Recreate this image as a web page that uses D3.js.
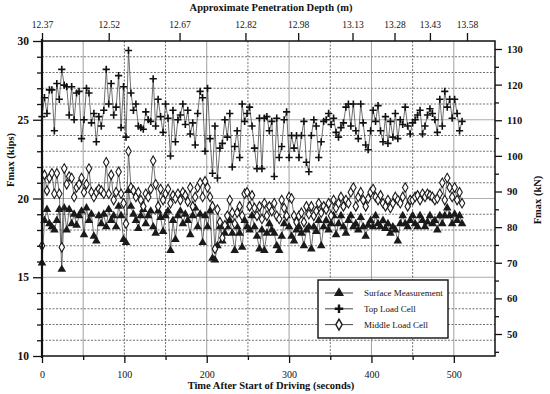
<!DOCTYPE html>
<html><head><meta charset="utf-8">
<script src="https://cdn.jsdelivr.net/npm/d3@7"></script>
<style>
body{margin:0;background:#fff}
svg{display:block}
text{font-family:"Liberation Serif","Times New Roman",serif;fill:#111}
</style>
</head><body><svg id="c" width="550" height="394"></svg>
<script>
// ---- data ----
const times = [0,3,6,9,12,15,18,21,24,27,30,33,36,39,42,45,48,51,54,57,60,63,66,69,72,75,78,81,84,87,90,93,96,99,102,105,108,111,114,117,120,123,126,129,132,135,138,141,144,147,150,153,156,159,162,165,168,171,174,177,180,183,186,189,192,195,198,201,204,207,210,213,216,219,222,225,228,231,234,237,240,243,246,249,252,255,258,261,264,267,270,273,276,279,282,285,288,291,294,297,300,303,306,309,312,315,318,321,324,327,330,333,336,339,342,345,348,351,354,357,360,363,366,369,372,375,378,381,384,387,390,393,396,399,402,405,408,411,414,417,420,423,426,429,432,435,438,441,444,447,450,453,456,459,462,465,468,471,474,477,480,483,486,489,492,495,498,501,504,507,510];

const surface = [15.9,18.6,19.3,18.4,18.2,18.0,18.6,19.3,15.5,19.4,
18.0,19.3,18.4,19.0,18.3,18.9,19.2,17.7,19.4,18.6,
19.0,17.6,17.3,18.9,18.4,19.0,18.2,19.3,18.6,18.9,
18.2,19.5,18.9,17.4,17.2,20.5,19.5,19.0,18.6,18.1,
18.9,19.3,18.4,18.9,19.2,18.2,17.8,19.2,18.8,17.9,
18.9,19.2,16.7,18.6,17.4,18.9,19.2,18.4,19.0,18.6,
17.7,18.9,19.4,18.2,19.0,17.2,18.9,18.2,19.2,16.2,
16.1,17.0,18.2,17.3,17.8,18.2,18.6,17.8,16.7,18.2,
17.8,16.9,18.6,18.2,18.0,18.9,18.2,17.6,16.8,18.0,
16.7,17.8,18.4,18.0,17.8,17.0,16.7,17.6,18.4,18.9,
18.2,17.6,17.3,18.0,18.2,17.8,17.0,18.0,18.2,16.8,
18.2,17.9,18.6,17.0,18.2,18.6,18.0,18.4,18.9,17.7,
18.4,18.9,18.2,17.8,18.6,18.9,18.2,18.4,18.0,18.8,
18.2,17.6,18.3,18.6,18.2,18.9,18.4,18.2,18.6,18.1,
18.4,17.8,18.2,18.0,17.3,18.4,18.9,18.4,18.2,18.6,
18.9,18.4,18.2,18.9,18.6,18.2,18.5,18.9,18.4,18.6,
18.0,18.9,18.4,18.9,19.4,18.9,18.4,19.0,18.6,18.9,
18.4];

const topCell = [25.2,26.4,25.4,26.9,26.9,24.3,27.3,26.3,28.2,27.2,
27.1,25.3,27.1,25.0,26.7,26.8,23.8,25.0,27.0,26.7,
24.8,25.4,23.6,25.2,24.6,25.6,28.2,26.0,27.3,25.3,
25.8,27.8,24.5,27.1,23.9,29.4,26.7,25.6,26.0,24.6,
24.5,24.4,25.5,25.0,24.9,27.6,24.6,26.3,25.2,24.2,
26.0,25.1,22.7,25.6,23.6,25.0,25.3,26.0,24.7,25.6,
24.1,24.8,23.4,25.4,26.8,26.4,23.0,27.0,23.8,21.6,
24.6,21.3,23.2,23.5,25.0,23.9,25.4,22.0,23.3,24.3,
22.6,26.0,24.9,25.4,25.8,24.6,23.2,21.9,25.1,21.9,
25.1,25.2,24.3,24.9,21.4,25.1,22.6,23.3,25.0,25.5,
22.6,24.0,23.2,24.0,22.6,24.0,24.9,22.3,21.7,24.0,
25.0,24.6,22.6,23.6,24.9,25.0,25.4,24.7,25.1,24.2,
23.9,24.5,24.8,25.8,26.0,24.6,26.0,24.3,23.8,26.0,
24.8,23.4,23.1,24.3,25.6,24.9,25.9,24.3,23.6,25.2,
23.5,24.9,23.9,25.4,23.8,25.0,24.7,25.8,24.6,24.1,
24.8,25.0,25.3,25.6,24.1,24.6,25.3,25.7,25.4,25.0,
24.2,26.3,24.6,26.8,25.8,26.3,25.1,26.3,25.4,24.3,
24.9];

const middleCell = [17.0,21.5,20.5,21.3,21.6,20.3,21.6,20.3,16.9,21.9,
20.9,21.4,21.3,20.1,20.7,20.9,21.3,20.4,20.9,21.9,
20.4,20.1,20.4,20.6,20.5,20.3,22.3,20.3,21.5,19.9,
20.4,21.7,20.3,19.7,18.4,23.0,20.7,20.5,20.1,20.4,
19.9,19.5,20.3,20.1,20.6,22.4,20.9,19.5,20.6,19.9,
20.3,20.6,19.7,20.2,20.0,20.3,19.9,20.4,20.2,19.8,
20.7,19.5,20.1,20.7,21.0,20.1,21.1,20.7,20.1,19.5,
16.8,19.3,18.5,17.5,18.3,18.9,19.9,19.1,18.4,19.1,
19.5,18.9,20.3,20.4,19.5,20.2,19.4,18.9,19.5,18.7,
19.7,18.9,19.5,19.2,19.7,18.9,18.7,19.9,19.4,18.9,
20.1,20.0,18.9,18.5,18.9,19.1,18.5,19.5,19.0,19.5,
18.9,19.2,19.7,19.1,19.5,19.3,19.7,18.9,19.9,19.4,
19.7,20.1,19.5,19.9,19.7,20.4,20.7,19.5,20.1,20.4,
19.9,19.5,20.0,20.4,20.6,20.1,19.9,20.2,19.7,19.5,
19.9,19.4,19.7,20.1,19.9,19.7,20.1,20.7,19.5,19.9,
19.9,20.1,20.2,19.9,20.3,20.1,20.3,20.2,20.1,19.9,
20.0,20.3,21.0,19.9,21.3,20.7,20.1,20.7,19.9,20.4,
19.7];

const kipsTicks = [10,15,20,25,30];
const kipsMinor = [11,12,13,14,16,17,18,19,21,22,23,24,26,27,28,29];
const kNTicks = [50,60,70,80,90,100,110,120,130];
const kNMinor = [45,55,65,75,85,95,105,115,125];
const timeTicks = [0,100,200,300,400,500];
const timeMinor = [50,150,250,350,450];
const depthLabels = ["12.37","12.52","12.67","12.82","12.98","13.13","13.28","13.43","13.58"];
const depthTimes = [0,81,167,247,311,377,428,471,516];
const gridSolidX = [50,200,300,400,500];
const gridDashX = [100,150,250,350,450];
const legendLabels = ["Surface Measurement","Top Load Cell","Middle Load Cell"];

// ---- scales ----
const svg = d3.select("#c");
const L = 42, R = 495, T = 41, B = 356;
const x = d3.scaleLinear().domain([0,550]).range([L,R]);
const y = d3.scaleLinear().domain([10,30]).range([B,T]);
const yk = d3.scaleLinear().domain([50,130]).range([334,49]);

svg.append("rect").attr("width",550).attr("height",394).attr("fill","#fff");

// ---- grid ----
const grid = svg.append("g");
grid.selectAll(".hg").data(d3.range(11,30)).join("line")
  .attr("x1",L).attr("x2",R).attr("y1",d=>y(d)).attr("y2",d=>y(d))
  .attr("stroke",d=>d%5===0?"#999":"#333")
  .attr("stroke-width",d=>d%5===0?0.8:0.7)
  .attr("stroke-dasharray",d=>d%5===0?null:"2,1.5");
grid.selectAll(".vs").data(gridSolidX).join("line")
  .attr("x1",d=>x(d)).attr("x2",d=>x(d)).attr("y1",T).attr("y2",B)
  .attr("stroke","#888").attr("stroke-width",0.8);
grid.selectAll(".vd").data(gridDashX).join("line")
  .attr("x1",d=>x(d)).attr("x2",d=>x(d)).attr("y1",T).attr("y2",B)
  .attr("stroke","#333").attr("stroke-width",0.7).attr("stroke-dasharray","2,1.5");

// ---- series ----
const plusPath = "M-3.6,0H3.6M0,-3.6V3.6";
function drawSeries(vals, kind){
  const pts = times.map((t,i)=>[t,vals[i]]);
  const g = svg.append("g");
  g.append("path").datum(pts)
    .attr("d", d3.line().x(d=>x(d[0])).y(d=>y(d[1])))
    .attr("fill","none").attr("stroke","#333").attr("stroke-width",0.7);
  const m = g.selectAll("path.m").data(pts).join("path").attr("class","m")
    .attr("transform",d=>`translate(${x(d[0])},${y(d[1])})`);
  if(kind==="tri") m.attr("d", d3.symbol(d3.symbolTriangle,32)()).attr("fill","#1a1a1a");
  if(kind==="plus") m.attr("d", plusPath).attr("fill","none").attr("stroke","#111").attr("stroke-width",1.6);
  if(kind==="dia") m.attr("d", d3.symbol(d3.symbolDiamond,26)()).attr("fill","#fff").attr("stroke","#1a1a1a").attr("stroke-width",1.1);
}
drawSeries(surface,"tri");
drawSeries(topCell,"plus");
drawSeries(middleCell,"dia");

// ---- frame ----
svg.append("rect").attr("x",L).attr("y",T).attr("width",R-L).attr("height",B-T)
  .attr("fill","none").attr("stroke","#111").attr("stroke-width",1.5);
svg.append("line").attr("x1",L).attr("x2",L).attr("y1",T-2).attr("y2",B+2)
  .attr("stroke","#111").attr("stroke-width",2.2);

// ---- axes ----
function styleAxis(g){ g.select(".domain").remove(); g.selectAll("line").attr("stroke","#111").attr("stroke-width",1.3); }
const gl = svg.append("g").attr("transform",`translate(${L},0)`)
  .call(d3.axisLeft(y).tickValues(kipsTicks).tickSize(9).tickPadding(4));
styleAxis(gl); gl.selectAll("text").attr("font-size",11.5).attr("font-weight","bold").attr("font-family","Liberation Serif");
const glm = svg.append("g").attr("transform",`translate(${L},0)`)
  .call(d3.axisLeft(y).tickValues(kipsMinor).tickSize(5).tickFormat(""));
styleAxis(glm);

const gr = svg.append("g").attr("transform",`translate(${R},0)`)
  .call(d3.axisRight(yk).tickValues(kNTicks).tickSize(7).tickPadding(5));
styleAxis(gr); gr.selectAll("text").attr("font-size",10.5).attr("font-weight","bold").attr("font-family","Liberation Serif");
const grm = svg.append("g").attr("transform",`translate(${R},0)`)
  .call(d3.axisRight(yk).tickValues(kNMinor).tickSize(4).tickFormat(""));
styleAxis(grm);

const gb = svg.append("g").attr("transform",`translate(0,${B})`)
  .call(d3.axisBottom(x).tickValues(timeTicks).tickSize(7).tickPadding(8));
styleAxis(gb); gb.selectAll("text").attr("font-size",10).attr("font-family","Liberation Serif");
const gbm = svg.append("g").attr("transform",`translate(0,${B})`)
  .call(d3.axisBottom(x).tickValues(timeMinor).tickSize(4).tickFormat(""));
styleAxis(gbm);

const gt = svg.append("g").attr("transform",`translate(0,${T})`)
  .call(d3.axisTop(x).tickValues(depthTimes).tickSize(8).tickPadding(5).tickFormat((d,i)=>depthLabels[i]));
styleAxis(gt); gt.selectAll("text").attr("font-size",9.5).attr("font-family","Liberation Serif");

// ---- titles ----
svg.append("text").attr("x",271).attr("y",11).attr("text-anchor","middle")
  .attr("font-size",10.5).attr("font-weight","bold").text("Approximate Penetration Depth (m)");
svg.append("text").attr("x",271).attr("y",389).attr("text-anchor","middle")
  .attr("font-size",10.5).attr("font-weight","bold").text("Time After Start of Driving (seconds)");
svg.append("text").attr("transform","translate(14,160) rotate(-90)").attr("text-anchor","middle")
  .attr("font-size",10.5).attr("font-weight","bold").text("Fmax (kips)");
svg.append("text").attr("transform","translate(541,200) rotate(-90)").attr("text-anchor","middle")
  .attr("font-size",10.5).attr("font-weight","bold").text("Fmax (kN)");

// ---- legend ----
const lg = svg.append("g");
lg.append("rect").attr("x",318).attr("y",280).attr("width",130).attr("height",58)
  .attr("fill","#fff").attr("stroke","#111").attr("stroke-width",1.4);
const kinds = ["tri","plus","dia"];
legendLabels.forEach((lab,i)=>{
  const yy = 293 + i*15.8;
  lg.append("line").attr("x1",325).attr("x2",353).attr("y1",yy).attr("y2",yy).attr("stroke","#333").attr("stroke-width",0.9);
  const m = lg.append("path").attr("transform",`translate(339,${yy})`);
  if(kinds[i]==="tri") m.attr("d", d3.symbol(d3.symbolTriangle,44)()).attr("fill","#1a1a1a");
  if(kinds[i]==="plus") m.attr("d","M-4.2,0H4.2M0,-4.2V4.2").attr("stroke","#111").attr("stroke-width",2.4);
  if(kinds[i]==="dia") m.attr("d", d3.symbol(d3.symbolDiamond,34)()).attr("fill","#fff").attr("stroke","#1a1a1a").attr("stroke-width",1.4);
  lg.append("text").attr("x",364).attr("y",yy+3).attr("font-size",9).text(lab);
});
</script>
</body></html>
